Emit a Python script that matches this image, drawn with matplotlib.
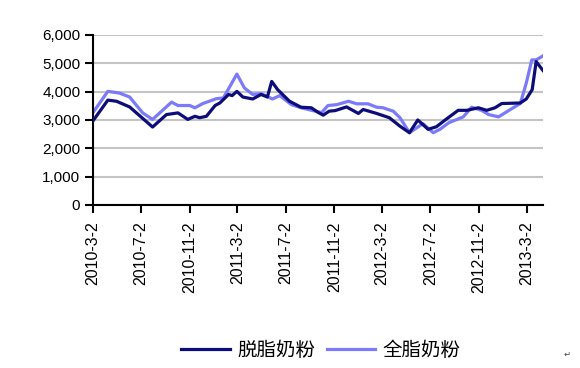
import pandas as pd
import matplotlib.pyplot as plt
from matplotlib.ticker import FuncFormatter

plt.rcParams['font.family'] = ['Liberation Sans', 'Noto Sans CJK SC', 'DejaVu Sans']

# skim milk powder (脱脂奶粉)
skim_dates = ["2010-03-02", "2010-04-09", "2010-05-01", "2010-06-03", "2010-07-31",
              "2010-09-04", "2010-10-03", "2010-10-28", "2010-11-15", "2010-11-27",
              "2010-12-14", "2011-01-05", "2011-01-17", "2011-02-08", "2011-02-17",
              "2011-03-01", "2011-03-16", "2011-04-10", "2011-05-01", "2011-05-17",
              "2011-05-28", "2011-06-12", "2011-07-12", "2011-08-10", "2011-09-05",
              "2011-09-22", "2011-10-05", "2011-10-20", "2011-11-04", "2011-12-03",
              "2012-01-02", "2012-01-14", "2012-02-17", "2012-03-20", "2012-04-16",
              "2012-05-10", "2012-05-31", "2012-06-26", "2012-07-17", "2012-08-12",
              "2012-09-10", "2012-10-02", "2012-10-31", "2012-11-21", "2012-12-12",
              "2012-12-29", "2013-02-14", "2013-03-01", "2013-03-16", "2013-03-26",
              "2013-04-12"]
skim_values = [2960, 3700, 3660, 3460, 2750,
               3190, 3250, 3020, 3130, 3080,
               3130, 3510, 3600, 3900, 3860,
               4010, 3810, 3740, 3900, 3810,
               4360, 4070, 3660, 3450, 3430,
               3270, 3170, 3310, 3330, 3460,
               3230, 3370, 3230, 3080, 2780,
               2550, 3000, 2670, 2760, 3040,
               3340, 3340, 3430, 3340, 3430,
               3580, 3600, 3740, 4070, 5060,
               4750]

# whole milk powder (全脂奶粉)
whole_dates = ["2010-03-02", "2010-04-09", "2010-05-08", "2010-06-03", "2010-07-06",
               "2010-07-31", "2010-09-17", "2010-10-03", "2010-11-02", "2010-11-15",
               "2010-12-05", "2011-01-08", "2011-01-26", "2011-03-01", "2011-03-20",
               "2011-04-10", "2011-05-01", "2011-05-30", "2011-06-17", "2011-07-17",
               "2011-08-10", "2011-09-09", "2011-10-01", "2011-10-17", "2011-11-08",
               "2011-12-08", "2011-12-29", "2012-01-26", "2012-02-17", "2012-03-04",
               "2012-03-30", "2012-04-16", "2012-05-10", "2012-06-13", "2012-07-09",
               "2012-07-26", "2012-08-17", "2012-09-23", "2012-10-14", "2012-11-08",
               "2012-11-26", "2012-12-21", "2013-01-20", "2013-02-14", "2013-03-01",
               "2013-03-15", "2013-03-26", "2013-04-12"]
whole_values = [3250, 4010, 3950, 3810, 3250,
                3020, 3630, 3510, 3510, 3430,
                3580, 3750, 3780, 4620, 4130,
                3900, 3930, 3740, 3860, 3540,
                3430, 3330, 3260, 3510, 3540,
                3660, 3570, 3570, 3450, 3430,
                3310, 3080, 2550, 2870, 2550,
                2670, 2900, 3110, 3450, 3340,
                3190, 3110, 3370, 3580, 4300,
                5120, 5120, 5260]

tick_labels = ["2010-3-2", "2010-7-2", "2010-11-2", "2011-3-2", "2011-7-2",
               "2011-11-2", "2012-3-2", "2012-7-2", "2012-11-2", "2013-3-2"]

skim_x = pd.to_datetime(skim_dates)
whole_x = pd.to_datetime(whole_dates)
tick_x = pd.to_datetime(tick_labels)

fig = plt.figure(figsize=(5.8, 3.68), dpi=100)
ax = fig.add_axes([0.160, 0.443, 0.776, 0.462])

ax.plot(skim_x, skim_values, color="#0c0c7a", lw=2.3, label="脱脂奶粉", zorder=3)
ax.plot(whole_x, whole_values, color="#7b7bfa", lw=2.3, label="全脂奶粉", zorder=2)

ax.set_ylim(0, 6000)
ax.set_yticks(range(0, 6001, 1000))
ax.yaxis.set_major_formatter(FuncFormatter(lambda v, p: f"{int(v):,}"))
ax.set_xlim(skim_x[0], skim_x[-1])
ax.set_xticks(tick_x)
ax.set_xticklabels(tick_labels, rotation=90)

ax.grid(axis="y", color="#c4c4c4", lw=1.5)
ax.set_axisbelow(True)
for s in ["top", "right"]:
    ax.spines[s].set_visible(False)
for s in ["left", "bottom"]:
    ax.spines[s].set_linewidth(1.5)
ax.tick_params(axis="both", direction="out", length=6, width=1.5,
               labelsize=11, colors="black", pad=3)
ax.tick_params(axis="x", labelsize=11.5, pad=6)

leg = fig.legend(loc="center", ncol=2, frameon=False,
                 prop={"family": ["Noto Sans CJK SC"], "size": 14},
                 handlelength=2.5, columnspacing=0.6, handletextpad=0.35)
leg.set_bbox_to_anchor((0.553, 1 - 350 / 368))
fig.text(0.972, 1 - 357 / 368, "↵", fontsize=6, color="#444444", family="DejaVu Sans")

fig.savefig("out.png", dpi=100)
